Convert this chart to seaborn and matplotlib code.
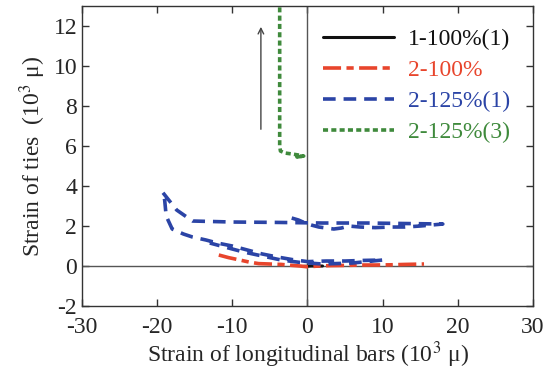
import matplotlib
matplotlib.use("Agg")
import matplotlib.pyplot as plt
import seaborn as sns
import pandas as pd

# ---- data (10^3 micro-strain) ----
black_x = [-0.5, 0.5, 2.0]
black_y = [-0.02, 0.0, 0.0]

red_x = [-11.8, -10.5, -9.0, -7.8, -6.5, -5.0, -3.5, -2.0, -1.0, 0.0, 1.5, 3.0,
         5.0, 7.0, 9.0, 11.0, 13.0, 15.5]
red_y = [0.55, 0.42, 0.30, 0.20, 0.12, 0.10, 0.08, 0.03, 0.0, -0.04, 0.0, 0.02,
         0.03, 0.05, 0.05, 0.06, 0.08, 0.10]

blue_x = [-2.1, -1.2, -0.3, 0.5, 1.5, 2.5, 3.5, 4.5, 5.5, 7.0, 9.0, 11.0, 13.0,
          15.0, 18.0, 14.0, 8.0, 2.0, -4.0, -10.0, -15.3, -17.4, -19.3, -19.0,
          -18.8, -18.0, -16.5, -15.3, -13.5, -12.0, -10.0, -8.0, -6.0, -4.0,
          -2.0, 0.0, 2.5, 5.0, 7.5, 10.0, 6.0, 2.0, -1.0, -3.5, -6.0, -8.5,
          -11.0, -13.0]
blue_y = [2.40, 2.30, 2.15, 2.05, 1.95, 1.90, 1.85, 1.90, 2.00, 1.95, 1.92, 1.95,
          1.95, 2.00, 2.10, 2.12, 2.15, 2.15, 2.18, 2.20, 2.25, 2.80, 3.70, 3.30,
          2.50, 1.85, 1.60, 1.45, 1.30, 1.15, 1.00, 0.80, 0.60, 0.45, 0.32, 0.22,
          0.25, 0.25, 0.28, 0.30, 0.15, 0.10, 0.18, 0.30, 0.50, 0.70, 0.95, 1.15]

green_x = [-3.7, -3.7, -3.6, -3.0, -2.0, -1.2, -0.5, -1.4, -0.6]
green_y = [13.5, 6.0, 5.75, 5.65, 5.60, 5.55, 5.50, 5.45, 5.50]

labels = ["1-100%(1)", "2-100%", "2-125%(1)", "2-125%(3)"]
colors = ["#111111", "#e8452c", "#2b44a6", "#3f8a3c"]

sns.set_style("ticks")
plt.rcParams["font.family"] = ["Liberation Serif", "DejaVu Serif"]
plt.rcParams["mathtext.fontset"] = "stix"
plt.rcParams["axes.unicode_minus"] = False

fig = plt.figure(figsize=(5.55, 3.74), dpi=100)
ax = fig.add_axes([0.1477, 0.1818, 0.8127, 0.802])

ax.axhline(0, color="#555555", lw=1.0, zorder=1)
ax.axvline(0, color="#555555", lw=1.0, zorder=1)

series = [
    (black_x, black_y, "-", 2.2),
    (red_x, red_y, (0, (5, 1.5, 2, 1.5)), 2.6),
    (blue_x, blue_y, (0, (3.5, 2.2)), 2.6),
    (green_x, green_y, (0, (1.4, 0.9)), 2.6),
]
for (xs, ys, ls, lw), lab, c in zip(series, labels, colors):
    df = pd.DataFrame({"x": xs, "y": ys})
    sns.lineplot(data=df, x="x", y="y", sort=False, estimator=None, ax=ax,
                 color=c, linestyle=ls, lw=lw, label=lab, zorder=3)

ax.annotate("", xy=(-6.2, 12.1), xytext=(-6.2, 6.7),
            arrowprops=dict(arrowstyle="->", color="#444444", lw=1.0))

ax.set_xlim(-30, 30)
ax.set_ylim(-2, 13)
ax.set_xticks([-30, -20, -10, 0, 10, 20, 30])
ax.set_yticks([-2, 0, 2, 4, 6, 8, 10, 12])
ax.tick_params(direction="in", top=True, right=True, labelsize=17,
               length=5, width=1, color="#333333")
ax.tick_params(axis="x", pad=8)
for s in ax.spines.values():
    s.set_linewidth(1.0)
    s.set_color("#333333")

ax.set_xlabel("Strain of longitudinal bars (10$^3$ μ)", fontsize=17, labelpad=1)
ax.set_ylabel("Strain of ties  (10$^3$ μ)", fontsize=17, labelpad=4)

leg = ax.legend(loc="upper left", bbox_to_anchor=(0.535, 0.925), frameon=False,
                fontsize=17, handlelength=3.0, handletextpad=0.6,
                labelspacing=0.4, borderpad=0, borderaxespad=0,
                labelcolor="linecolor")

fig.savefig("out.png", dpi=100)
